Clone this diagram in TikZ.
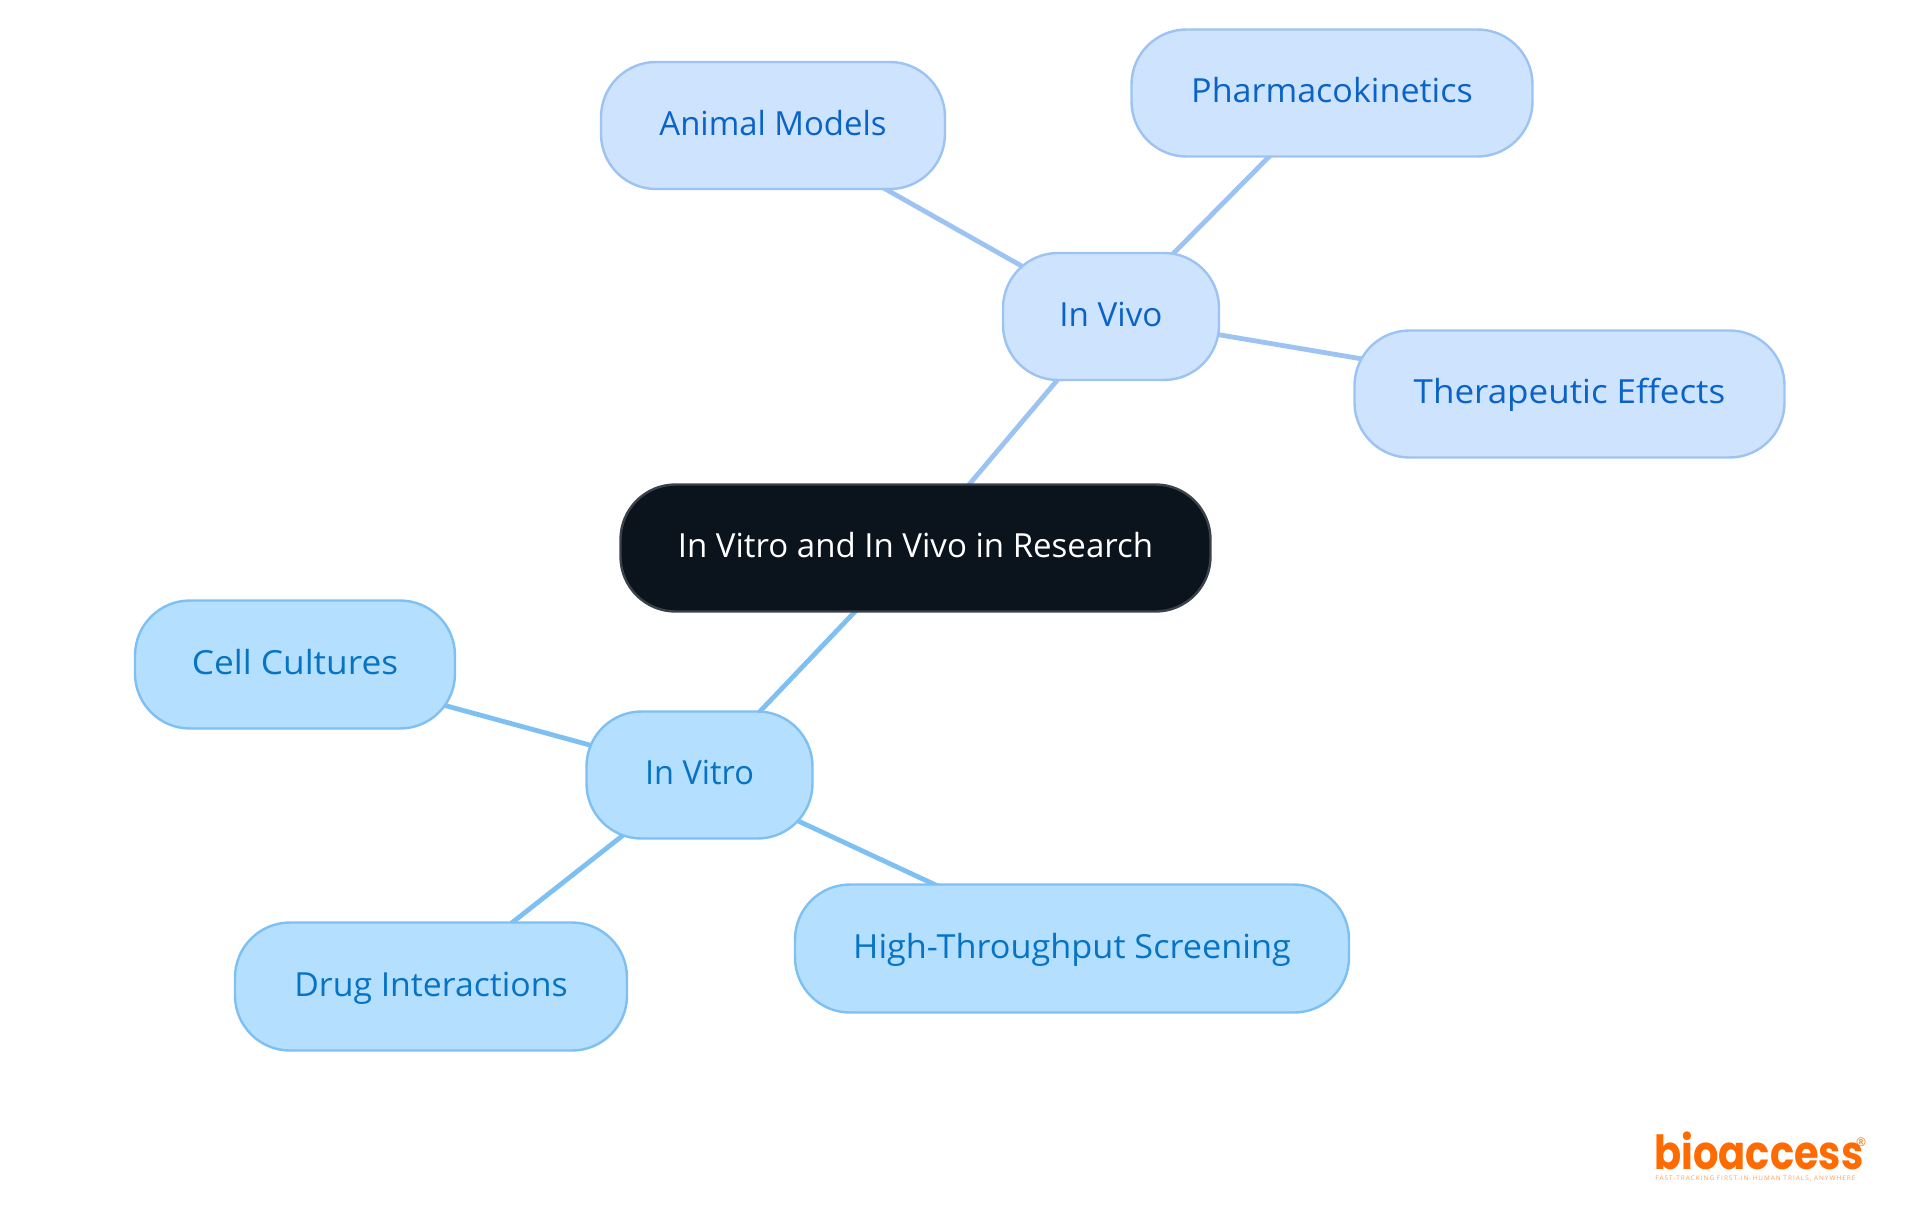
\documentclass[tikz,border=0pt]{standalone}
\usepackage{fontspec}
\usepackage{graphicx}
\setmainfont{Open Sans}
\newfontfamily\logofont{Poppins}[FontFace={b}{n}{Font=* Bold}]
\newfontfamily\tagfont{Open Sans}[LetterSpace=16]
\usetikzlibrary{backgrounds}
\definecolor{rootfill}{HTML}{0B131C}
\definecolor{rootline}{HTML}{3C4249}
\definecolor{vivofill}{HTML}{CEE3FD}
\definecolor{vivoline}{HTML}{9CC3F2}
\definecolor{vivotext}{HTML}{0A63C7}
\definecolor{vitrofill}{HTML}{B4DFFF}
\definecolor{vitroline}{HTML}{7FC0F2}
\definecolor{vitrotext}{HTML}{0673C4}
\definecolor{logoorange}{HTML}{FF6B00}
\newcommand{\fitw}[2]{\scalebox{#1}[1]{#2}}
\tikzset{
  x=0.5pt,y=-0.5pt,
  pill/.style={rectangle,rounded corners=27.5pt,line width=1.2pt,inner sep=0pt,
    minimum height=63.5pt,align=center,text height=14.8pt,text depth=5pt,
    font=\fontsize{16.6pt}{20pt}\selectfont},
  rootpill/.style={pill,draw=rootline,fill=rootfill,text=white},
  vivopill/.style={pill,draw=vivoline,fill=vivofill,text=vivotext},
  vitropill/.style={pill,draw=vitroline,fill=vitrofill,text=vitrotext},
  vivolink/.style={draw=vivoline,line width=2.4pt},
  vitrolink/.style={draw=vitroline,line width=2.4pt},
}
\begin{document}
\begin{tikzpicture}
\useasboundingbox (0,0) rectangle (1920,1215);
\node[rootpill,minimum width=295pt] (root) at (915.5,548) {\fitw{0.995}{In Vitro and In Vivo in Research}};
\node[vivopill,minimum width=108pt] (vivo) at (1111,316.5) {In Vivo};
\node[vivopill,minimum width=172pt] (animal) at (773,125.5) {\fitw{0.99}{Animal Models}};
\node[vivopill,minimum width=200.5pt] (pharma) at (1332,93) {\fitw{1.027}{Pharmacokinetics}};
\node[vivopill,minimum width=215pt] (thera) at (1569.5,394) {\fitw{1.054}{Therapeutic Effects}};
\node[vitropill,minimum width=113pt] (vitro) at (699.5,775) {\fitw{0.98}{In Vitro}};
\node[vitropill,minimum width=160pt,minimum height=64pt] (cell) at (295,664.5) {\fitw{1.063}{Cell Cultures}};
\node[vitropill,minimum width=277pt,minimum height=64pt] (high) at (1072,948.5) {\fitw{1.032}{High-Throughput Screening}};
\node[vitropill,minimum width=196pt,minimum height=64pt] (drug) at (431,986.5) {\fitw{1.018}{Drug Interactions}};
\begin{scope}[on background layer]
\draw[vivolink] (root.center) -- (vivo.center);
\draw[vivolink] (vivo.center) -- (animal.center);
\draw[vivolink] (vivo.center) -- (pharma.center);
\draw[vivolink] (vivo.center) -- (thera.center);
\draw[vitrolink] (root.center) -- (vitro.center);
\draw[vitrolink] (vitro.center) -- (cell.center);
\draw[vitrolink] (vitro.center) -- (high.center);
\draw[vitrolink] (vitro.center) -- (drug.center);
\end{scope}
\node[inner sep=0pt,anchor=base west,text=logoorange,font=\logofont\bfseries\fontsize{23.5pt}{24pt}\selectfont] (logo) at (1654,1169) {\fitw{0.85}{bioaccess}};
\node[inner sep=0pt,anchor=center,text=logoorange,font=\fontsize{6pt}{6pt}\selectfont] (reg) at (1861,1142) {®};
\node[inner sep=0pt,anchor=base west,text=logoorange!65,font=\tagfont\fontsize{3.2pt}{3.5pt}\selectfont] (tag) at (1655,1180) {FAST-TRACKING FIRST-IN-HUMAN TRIALS, ANYWHERE};
\end{tikzpicture}
\end{document}
